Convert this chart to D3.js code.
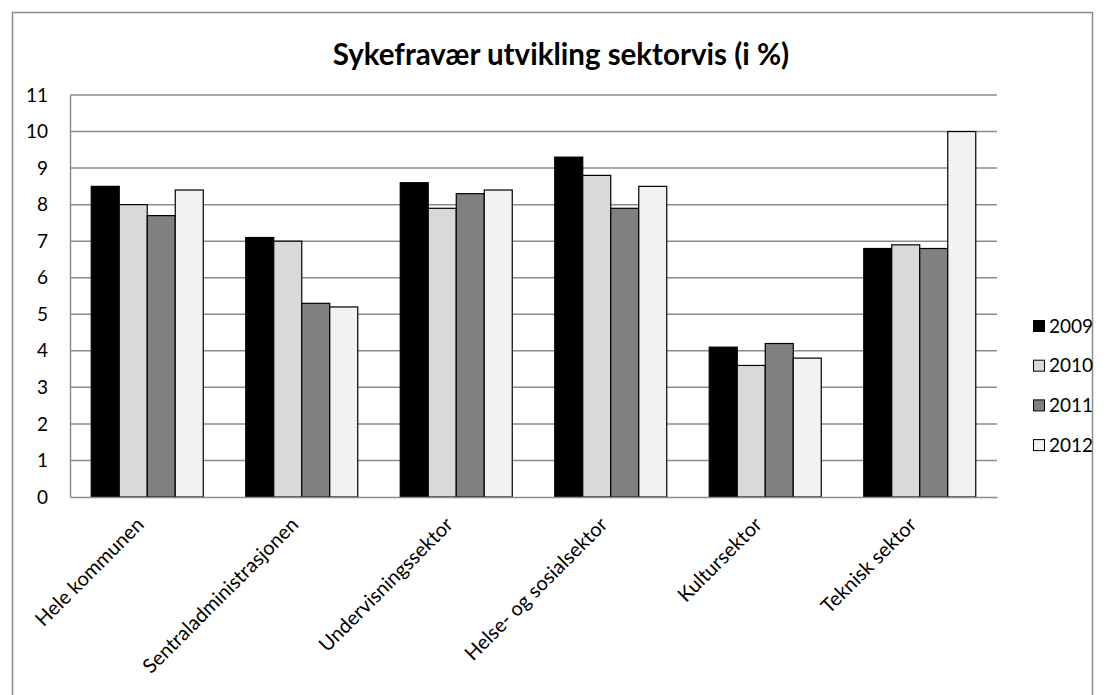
<!DOCTYPE html>
<html>
<head>
<meta charset="utf-8">
<script src="https://cdn.jsdelivr.net/npm/d3@7"></script>
<style>
  body { margin: 0; background: #fff; }
  svg { font-family: "Lato", "Open Sans", sans-serif; }
</style>
</head>
<body>
<svg id="chart" width="1107" height="695"></svg>
<script>
// data
const sectors = ['Hele kommunen', 'Sentraladministrasjonen', 'Undervisningssektor',
                 'Helse- og sosialsektor', 'Kultursektor', 'Teknisk sektor'];
const years = ['2009', '2010', '2011', '2012'];
const v2009 = [8.5, 7.1, 8.6, 9.3, 4.1, 6.8];
const v2010 = [8.0, 7.0, 7.9, 8.8, 3.6, 6.9];
const v2011 = [7.7, 5.3, 8.3, 7.9, 4.2, 6.8];
const v2012 = [8.4, 5.2, 8.4, 8.5, 3.8, 10.0];
const yTicks = [0, 1, 2, 3, 4, 5, 6, 7, 8, 9, 10, 11];
const fills = ['#000000', '#d9d9d9', '#808080', '#f2f2f2'];

const series = [v2009, v2010, v2011, v2012];
const rows = sectors.map((s, i) => ({ sector: s, values: years.map((y, j) => ({ year: y, value: series[j][i] })) }));

const svg = d3.select('#chart');
const margin = { top: 95, left: 70, right: 110, bottom: 198 };
const width = 1107, height = 695;
const plotW = width - margin.left - margin.right;
const plotH = height - margin.top - margin.bottom;

// outer chart border
svg.append('rect')
    .attr('x', 12.5).attr('y', 12.5)
    .attr('width', 1080).attr('height', 700)
    .attr('fill', 'none')
    .attr('stroke', '#8c8c8c')
    .attr('stroke-width', 1.5);

svg.append('text')
    .attr('x', 561).attr('y', 65)
    .attr('text-anchor', 'middle')
    .attr('font-size', 29.5)
    .attr('font-weight', 'bold')
    .text('Sykefravær utvikling sektorvis (i %)');

const x0 = d3.scaleBand()
    .domain(sectors)
    .range([0, plotW])
    .paddingInner(0.275)
    .paddingOuter(0.1375);

const x1 = d3.scaleBand()
    .domain(years)
    .range([0, x0.bandwidth()]);

const y = d3.scaleLinear()
    .domain([0, 11])
    .range([plotH, 0]);

const g = svg.append('g')
    .attr('transform', `translate(${margin.left}, ${margin.top})`);

// gridlines
g.append('g')
    .selectAll('line')
    .data(yTicks.slice(1))
    .enter()
    .append('line')
    .attr('x1', 0).attr('x2', plotW)
    .attr('y1', d => y(d)).attr('y2', d => y(d))
    .attr('stroke', '#8c8c8c')
    .attr('stroke-width', 1.5);

// y axis
const yAxis = g.append('g')
    .call(d3.axisLeft(y).tickValues(yTicks).tickSize(0).tickPadding(22));
yAxis.select('.domain').attr('stroke', '#8c8c8c').attr('stroke-width', 1.5);
yAxis.selectAll('text').attr('font-size', 19).attr('fill', '#000').style('font-family', 'Lato, sans-serif');

// bars
g.selectAll('.group')
    .data(rows)
    .enter()
    .append('g')
    .attr('class', 'group')
    .attr('transform', d => `translate(${x0(d.sector)}, 0)`)
    .selectAll('rect')
    .data(d => d.values)
    .enter()
    .append('rect')
    .attr('x', d => x1(d.year))
    .attr('y', d => y(d.value))
    .attr('width', x1.bandwidth())
    .attr('height', d => plotH - y(d.value))
    .attr('fill', (d, i) => fills[i])
    .attr('stroke', '#000')
    .attr('stroke-width', 1.2);

// x axis
const xAxis = g.append('g')
    .attr('transform', `translate(0, ${plotH})`)
    .call(d3.axisBottom(x0).tickSize(0).tickPadding(0));
xAxis.select('.domain').attr('stroke', '#8c8c8c').attr('stroke-width', 1.5);
xAxis.selectAll('text')
    .attr('font-size', 20)
    .attr('fill', '#000')
    .style('font-family', 'Lato, sans-serif')
    .attr('text-anchor', 'end')
    .attr('dy', '0.35em')
    .attr('transform', 'translate(-7, 24) rotate(-45)');

// legend
const legend = svg.append('g')
    .attr('transform', 'translate(1033, 326)');
const item = legend.selectAll('g')
    .data(years)
    .enter()
    .append('g')
    .attr('transform', (d, i) => `translate(0, ${i * 39.7})`);
item.append('rect')
    .attr('x', 0.5).attr('y', -5.5)
    .attr('width', 11).attr('height', 11)
    .attr('fill', (d, i) => fills[i])
    .attr('stroke', '#000')
    .attr('stroke-width', 1);
item.append('text')
    .attr('x', 16).attr('y', 0)
    .attr('dy', '0.35em')
    .attr('font-size', 19)
    .text(d => d);
</script>
</body>
</html>
